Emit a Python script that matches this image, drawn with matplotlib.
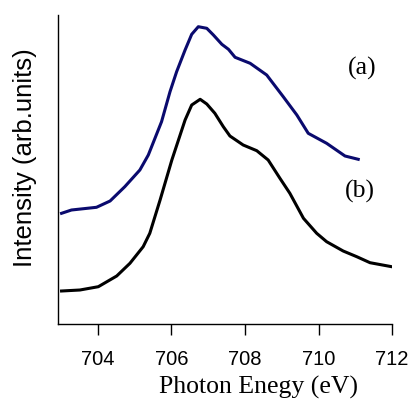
import matplotlib
matplotlib.use('Agg')
from matplotlib import pyplot as plt

# curve (a), blue
xa = [703.01, 703.28, 703.96, 704.33, 704.73, 705.14, 705.37, 705.73, 705.96, 706.14,
      706.37, 706.55, 706.73, 706.96, 707.14, 707.37, 707.55, 707.73, 708.14, 708.59,
      709.04, 709.41, 709.72, 710.22, 710.72, 711.08]
ya = [1.107, 1.14, 1.167, 1.23, 1.373, 1.54, 1.69, 2.023, 2.323, 2.523,
      2.74, 2.897, 2.973, 2.957, 2.89, 2.797, 2.747, 2.667, 2.607, 2.49,
      2.273, 2.09, 1.907, 1.807, 1.68, 1.647]

# curve (b), black
xb = [703.01, 703.51, 704.01, 704.51, 704.87, 705.23, 705.41, 705.69, 706.01, 706.37,
      706.55, 706.78, 706.96, 707.18, 707.41, 707.59, 707.95, 708.32, 708.63, 708.95,
      709.22, 709.59, 709.95, 710.22, 710.67, 711.04, 711.40, 711.99]
yb = [0.33, 0.34, 0.373, 0.48, 0.607, 0.773, 0.907, 1.24, 1.64, 2.04,
      2.19, 2.247, 2.2, 2.107, 1.973, 1.88, 1.79, 1.733, 1.64, 1.457,
      1.307, 1.057, 0.907, 0.823, 0.73, 0.673, 0.613, 0.573]

xticks = [704, 706, 708, 710, 712]

fig = plt.figure(figsize=(4.12, 4.0), dpi=100)
ax = fig.add_axes([0.1396, 0.19, 0.812, 0.7725])
ax.plot(xa, ya, color='#0a0a6e', lw=2.2)
ax.plot(xb, yb, color='black', lw=2.2)
ax.set_xlim(702.9, 712.0)
ax.set_ylim(0, 3.09)
ax.spines['top'].set_visible(False)
ax.spines['right'].set_visible(False)
ax.spines['left'].set_linewidth(1.0)
ax.spines['bottom'].set_linewidth(1.0)
ax.set_yticks([])
ax.set_xticks(xticks)
ax.tick_params(axis='x', direction='out', length=8, width=1.0, pad=11,
               labelsize=14.5)
for lab in ax.get_xticklabels():
    lab.set_fontfamily('Liberation Sans')
ax.set_xlabel('Photon Enegy (eV)', fontfamily='Liberation Serif', fontsize=18.5)
ax.xaxis.label.set_va('center')
ax.xaxis.set_label_coords(0.602, -0.204)
ax.set_ylabel('Intensity (arb.units)', fontfamily='Liberation Sans', fontsize=18.5)
ax.yaxis.label.set_va('center')
ax.yaxis.set_label_coords(-0.097, 0.54)
ax.text(711.18, 2.56, '(a)', fontfamily='Liberation Serif', fontsize=18.5,
        ha='center', va='center')
ax.text(711.12, 1.33, '(b)', fontfamily='Liberation Serif', fontsize=18.5,
        ha='center', va='center')
fig.savefig('out.png', dpi=100)
